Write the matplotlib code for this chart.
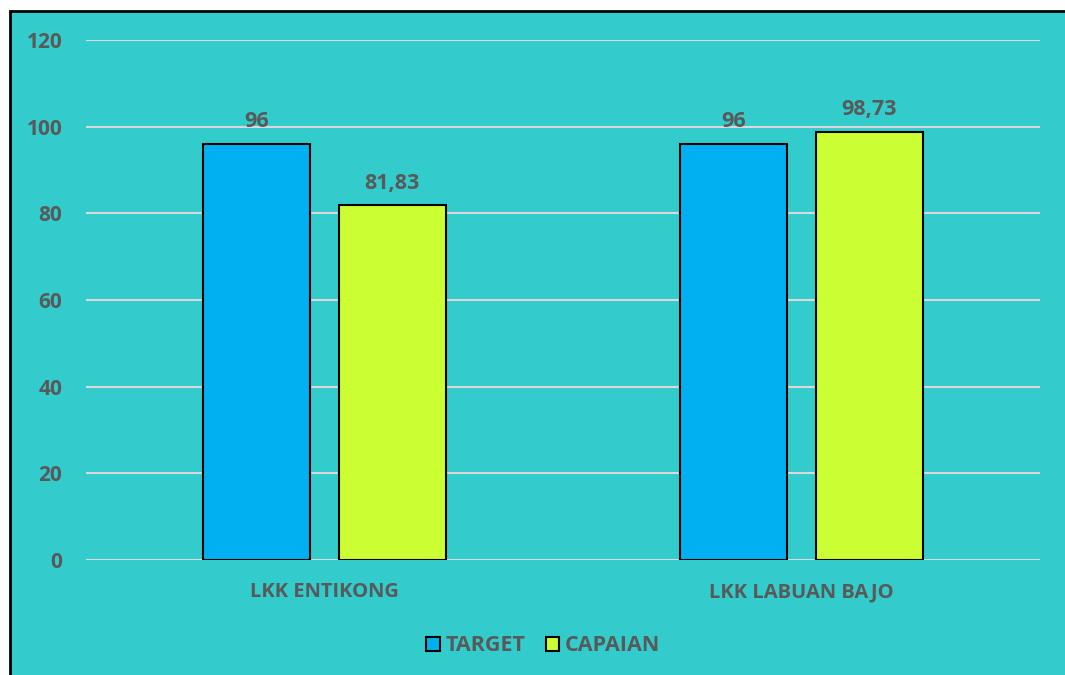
import matplotlib.pyplot as plt
import numpy as np
from matplotlib.patches import Rectangle

# Data
categories = ["LKK ENTIKONG", "LKK LABUAN BAJO"]
target = [96, 96]
capaian = [81.83, 98.73]
series_names = ["TARGET", "CAPAIAN"]
yticks = [0, 20, 40, 60, 80, 100, 120]

BG = "#33CCCC"
TXT = "#595959"
plt.rcParams["font.family"] = ["Open Sans", "DejaVu Sans"]
plt.rcParams["font.weight"] = "bold"

fig = plt.figure(figsize=(10.65, 6.75), dpi=100, facecolor="white")
# background panel with black frame (left/top edges visible)
fig.patches.append(Rectangle((9.5 / 1065, -0.05), 1.1, (675 - 10.5) / 675 + 0.05,
                             transform=fig.transFigure, facecolor=BG,
                             edgecolor="black", linewidth=2, zorder=-10))

ax = fig.add_axes([86 / 1065, 1 - 560 / 675, (1040 - 86) / 1065, (560 - 40) / 675])
ax.set_facecolor("none")

x = np.arange(len(categories))
w = 0.225
off = 0.142
b1 = ax.bar(x - off, target, w, color="#00B0F0", edgecolor="black", linewidth=1.5,
            label=series_names[0], zorder=3)
b2 = ax.bar(x + off, capaian, w, color="#CCFF33", edgecolor="black", linewidth=1.5,
            label=series_names[1], zorder=3)

def fmt(v):
    s = f"{v:g}"
    return s.replace(".", ",")

for bars, vals in [(b1, target), (b2, capaian)]:
    for rect, v in zip(bars, vals):
        ax.annotate(fmt(v), (rect.get_x() + rect.get_width() / 2, v),
                    xytext=(0, 8.5), textcoords="offset points", ha="center",
                    va="bottom", fontsize=15.5, fontweight="bold", color=TXT)

ax.set_xlim(-0.5, 1.5)
ax.set_ylim(0, 120)
ax.set_yticks(yticks)
ax.set_xticks(x)
ax.set_xticklabels(categories)
ax.yaxis.grid(True, color="#D9D9D9", linewidth=1.5, zorder=1)
ax.set_axisbelow(True)
ax.tick_params(axis="y", length=0, pad=17, labelsize=15, labelcolor=TXT)
ax.tick_params(axis="x", length=0, pad=16, labelsize=14.5, labelcolor=TXT)
for tl in ax.get_xticklabels() + ax.get_yticklabels():
    tl.set_fontweight("bold")
for s in ax.spines.values():
    s.set_visible(False)

leg = ax.legend(loc="center", bbox_to_anchor=(0.479, -0.165), ncol=2, frameon=False,
                handlelength=0.65, handleheight=0.65, handletextpad=0.25,
                columnspacing=0.95, labelcolor=TXT, prop={"weight": "bold", "size": 15.5})

fig.savefig("out.png", dpi=100, facecolor="white")
